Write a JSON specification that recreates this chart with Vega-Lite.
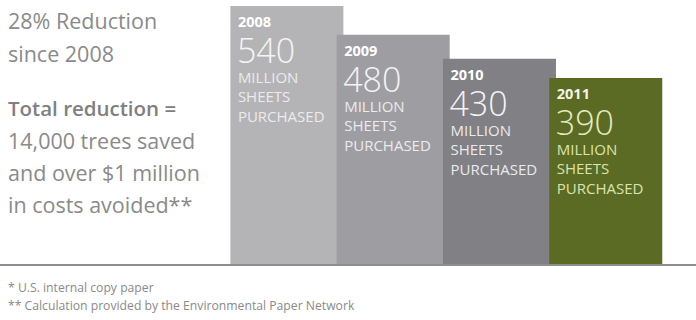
{
  "$schema": "https://vega.github.io/schema/vega-lite/v6.json",
  "width": 696,
  "height": 320,
  "padding": 0,
  "autosize": {"type": "none"},
  "background": "#ffffff",
  "config": {"view": {"stroke": null}, "text": {"font": "Open Sans"}},
  "resolve": {"scale": {"x": "independent", "y": "independent"}},
  "layer": [
    {
      "data": {"values": [
        {"year": 2008, "sheets": 540},
        {"year": 2009, "sheets": 480},
        {"year": 2010, "sheets": 430},
        {"year": 2011, "sheets": 390}
      ]},
      "encoding": {
        "x": {"field": "year", "type": "quantitative", "axis": null, "scale": {"domain": [2005.348, 2011.802], "nice": false, "zero": false}},
        "y": {"field": "sheets", "type": "quantitative", "axis": null, "scale": {"domain": [-114.67, 552.5], "nice": false, "zero": false}}
      },
      "layer": [
        {
          "mark": {"type": "bar", "width": 113},
          "encoding": {
            "y2": {"datum": 0},
            "color": {"field": "year", "type": "nominal", "legend": null,
              "scale": {"domain": [2008, 2009, 2010, 2011], "range": ["#b4b4b6", "#9e9ea2", "#808085", "#5b6b24"]}}
          }
        },
        {
          "mark": {"type": "rule", "color": "#8e8e8e", "strokeWidth": 1.5},
          "encoding": {"y": {"datum": 0}, "x": null}
        },
        {
          "mark": {"type": "text", "align": "left", "baseline": "alphabetic", "dx": -49, "dy": 21, "fontSize": 14.5, "fontWeight": "bold"},
          "encoding": {
            "text": {"field": "year", "type": "nominal"},
            "color": {"condition": {"test": "datum.year == 2011", "value": "#f2f4e6"}, "value": "#ffffff"}
          }
        },
        {
          "mark": {"type": "text", "align": "left", "baseline": "alphabetic", "dx": -50, "dy": 57, "fontSize": 34, "fontWeight": 300},
          "encoding": {
            "text": {"field": "sheets", "type": "quantitative"},
            "color": {"condition": {"test": "datum.year == 2011", "value": "#e4ebc0"}, "value": "#f4f4f5"}
          }
        },
        {
          "mark": {"type": "text", "align": "left", "baseline": "alphabetic", "dx": -49, "dy": 77, "fontSize": 15, "lineHeight": 19.5, "text": ["MILLION", "SHEETS", "PURCHASED"]},
          "encoding": {
            "color": {"condition": {"test": "datum.year == 2011", "value": "#dbe4ae"}, "value": "#ebebed"}
          }
        }
      ]
    },
    {
      "data": {"values": [{}]},
      "encoding": {
        "x": {"datum": 0.0115, "type": "quantitative", "axis": null, "scale": {"domain": [0, 1], "nice": false, "zero": false}}
      },
      "layer": [
        {
          "mark": {"type": "text", "align": "left", "baseline": "alphabetic", "fontSize": 21.5, "lineHeight": 33, "color": "#8a8a8a", "text": ["28% Reduction", "since 2008"]},
          "encoding": {"y": {"datum": 0.0906, "type": "quantitative", "axis": null, "scale": {"domain": [0, 1], "reverse": true, "nice": false, "zero": false}}}
        },
        {
          "mark": {"type": "text", "align": "left", "baseline": "alphabetic", "fontSize": 20.5, "fontWeight": 600, "color": "#808080", "text": "Total reduction ="},
          "encoding": {"y": {"datum": 0.364, "type": "quantitative"}}
        },
        {
          "mark": {"type": "text", "align": "left", "baseline": "alphabetic", "fontSize": 21.5, "lineHeight": 32, "color": "#8a8a8a", "text": ["14,000 trees saved", "and over $1 million", "in costs avoided**"]},
          "encoding": {"y": {"datum": 0.467, "type": "quantitative"}}
        },
        {
          "mark": {"type": "text", "align": "left", "baseline": "alphabetic", "fontSize": 12.2, "lineHeight": 18, "color": "#8a8a8a", "text": ["* U.S. internal copy paper", "** Calculation provided by the Environmental Paper Network"]},
          "encoding": {"y": {"datum": 0.9125, "type": "quantitative"}}
        }
      ]
    }
  ]
}
